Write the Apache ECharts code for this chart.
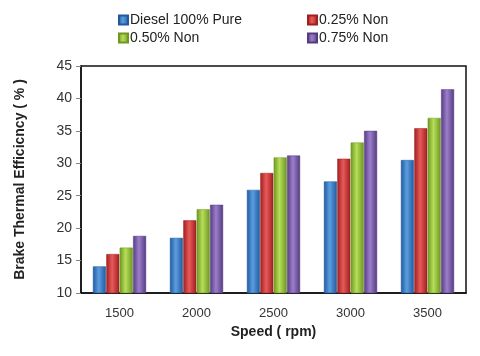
<!DOCTYPE html>
<html><head><meta charset="utf-8">
<script src="https://cdn.jsdelivr.net/npm/echarts@6/dist/echarts.min.js"></script>
<style>html,body{margin:0;padding:0;background:#fff}#c{width:480px;height:356px}</style>
</head><body><div id="c"></div>
<script>
var categories = ['1500', '2000', '2500', '3000', '3500'];
var seriesNames = ['Diesel 100% Pure', '0.25% Non', '0.50% Non', '0.75% Non'];
var diesel = [14.1, 18.5, 25.9, 27.2, 30.5];
var non025 = [16.0, 21.2, 28.5, 30.7, 35.4];
var non050 = [17.0, 22.9, 30.9, 33.2, 37.0];
var non075 = [18.8, 23.6, 31.2, 35.0, 41.4];
var yTicks = {min: 10, max: 45, interval: 5};

var palette = [
  ['#1f5a9e', '#5c9de0', '#1f5a9e'],
  ['#a01e1e', '#e85a5a', '#a01e1e'],
  ['#6e9620', '#b6de5a', '#6e9620'],
  ['#553a80', '#9c7fcb', '#553a80']
];
function grad(c) {
  return new echarts.graphic.LinearGradient(0, 0, 1, 0, [
    {offset: 0, color: c[0]}, {offset: 0.45, color: c[1]}, {offset: 1, color: c[2]}
  ]);
}
var data = [diesel, non025, non050, non075];
var FONT = 'Liberation Sans';
var series = data.map(function (d, i) {
  return {
    name: seriesNames[i], type: 'bar', data: d,
    barWidth: 13, barGap: '3%',
    itemStyle: {color: grad(palette[i]), borderColor: palette[i][0], borderWidth: 0.5}
  };
});
var legendCommon = {
  orient: 'vertical', itemWidth: 9, itemHeight: 9, itemGap: 4, icon: 'rect',
  textStyle: {fontFamily: FONT, fontSize: 14, color: '#222', padding: [0, 0, 0, -3]}
};
var chart = echarts.init(document.getElementById('c'), null, {renderer: 'canvas'});
chart.setOption({
  animation: false,
  backgroundColor: '#fff',
  color: palette.map(function (p) { return p[1]; }),
  legend: [
    Object.assign({left: 113, top: 8, data: [seriesNames[0], seriesNames[2]]}, legendCommon),
    Object.assign({left: 302, top: 8, data: [seriesNames[1], seriesNames[3]]}, legendCommon)
  ],
  grid: {left: 81, right: 14, top: 66, bottom: 63, show: true, borderColor: '#111', borderWidth: 1.5, backgroundColor: 'transparent'},
  xAxis: {
    type: 'category', data: categories,
    name: 'Speed ( rpm)', nameLocation: 'middle', nameGap: 31,
    nameTextStyle: {fontFamily: FONT, fontSize: 14, fontWeight: 'bold', color: '#222'},
    axisLine: {lineStyle: {color: '#111', width: 1.5}},
    axisTick: {show: false},
    axisLabel: {fontFamily: FONT, fontSize: 13, color: '#333', margin: 14}
  },
  yAxis: {
    type: 'value', min: yTicks.min, max: yTicks.max, interval: yTicks.interval,
    name: 'Brake Thermal Efficicncy ( % )', nameLocation: 'middle', nameGap: 54,
    nameTextStyle: {fontFamily: FONT, fontSize: 14, fontWeight: 'bold', color: '#222'},
    axisLine: {show: true, lineStyle: {color: '#111', width: 1.5}},
    axisTick: {show: true, length: 5, lineStyle: {color: '#888'}},
    splitLine: {show: false},
    axisLabel: {fontFamily: FONT, fontSize: 14, color: '#333', margin: 9}
  },
  series: series
});
</script></body></html>
